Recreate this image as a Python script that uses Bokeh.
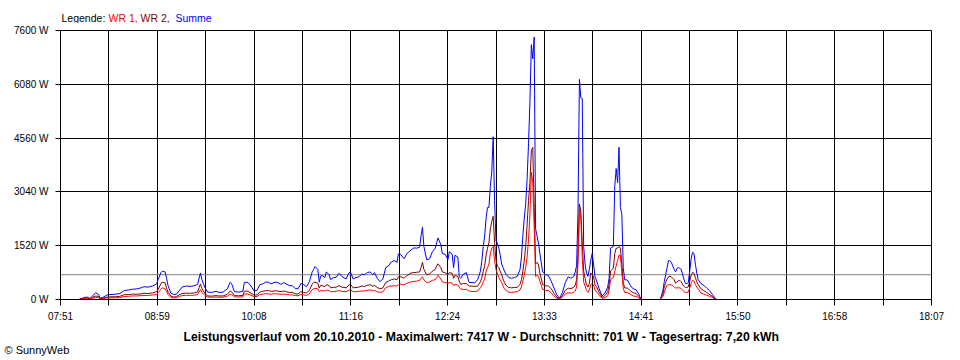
from bokeh.plotting import figure
from bokeh.models import FixedTicker, Span, CustomJSTickFormatter, Range1d, ColumnDataSource, Title
from bokeh.layouts import column
from bokeh.core.properties import value
from bokeh.embed import file_html
from bokeh.resources import INLINE

# ---------------- data (minutes since midnight, watts) ----------------
MINUTES = [
    484, 486, 488, 490, 492, 494, 496, 498, 499, 501, 504, 506, 510, 513, 516, 519, 522, 525, 528, 530,
    533, 536, 539, 540, 542, 543, 545, 546, 547, 549, 551, 553, 555, 557, 560, 563, 566, 568, 569, 570,
    571, 573, 575, 578, 581, 583, 586, 589, 591, 592, 594, 597, 600, 601, 603, 605, 608, 610, 612, 614,
    616, 618, 620, 622, 624, 627, 629, 631, 633, 635, 637, 639, 641, 643, 645, 647, 649, 650, 651, 653,
    654, 655, 656, 658, 659, 661, 662, 664, 666, 668, 670, 673, 675, 676, 678, 680, 682, 684, 686, 688,
    690, 692, 693, 695, 697, 699, 701, 703, 705, 707, 709, 710, 711, 713, 714, 716, 719, 721, 723, 725,
    726, 727, 728, 730, 732, 734, 736, 737, 738, 740, 741, 743, 745, 746, 748, 749, 750, 752, 753, 754,
    756, 758, 760, 762, 764, 766, 768, 769, 770, 771, 772, 773, 774, 775, 776, 777, 778, 779, 780, 781,
    782, 783, 784, 785, 786, 788, 790, 792, 794, 796, 797, 798, 799, 800, 801, 802, 803, 804, 805, 806,
    807, 808, 809, 810, 812, 814, 816, 818, 820, 822, 824, 826, 828, 830, 832, 834, 835, 836, 837, 838,
    839, 840, 841, 842, 843, 844, 845, 846, 847, 848, 849, 850, 852, 854, 856, 858, 859, 860, 861, 862,
    863, 864, 865, 866, 867, 868, 869, 870, 872, 874, 876, 878, 880, 881, 882, 895, 896, 897, 898, 899,
    900, 901, 902, 903, 904, 905, 906, 907, 908, 909, 910, 911, 912, 913, 914, 915, 916, 917, 918, 919,
    920, 921, 922, 924, 926, 928, 930, 932, 934, 935,
]

SUMME = [
    0, 30, 60, 65, 30, 120, 190, 140, 40, 60, 130, 140, 150, 170, 250, 270, 290, 300, 330, 360,
    350, 380, 440, 560, 760, 800, 780, 600, 400, 180, 140, 150, 250, 350, 380, 370, 390, 430, 600, 750,
    560, 350, 210, 200, 230, 200, 210, 300, 490, 450, 220, 210, 230, 480, 490, 420, 240, 260, 420, 440,
    490, 490, 440, 480, 490, 430, 480, 430, 390, 390, 310, 300, 450, 420, 360, 500, 780, 850, 930, 850,
    490, 660, 680, 620, 780, 700, 560, 620, 630, 740, 650, 580, 750, 780, 580, 620, 640, 720, 700, 760,
    780, 700, 760, 600, 500, 580, 900, 950, 1060, 1100, 1050, 1290, 1300, 1200, 1150, 1300, 1400, 1460, 1450, 1480,
    1800, 2040, 1500, 1120, 1150, 1350, 1450, 1600, 1740, 1550, 1300, 1280, 1130, 1350, 1280, 900, 1250, 1200, 650, 600,
    720, 760, 480, 480, 470, 560, 800, 1100, 1500, 1800, 2300, 2600, 2600, 3200, 3600, 4600, 2800, 1650, 1600, 1450,
    1250, 1000, 900, 800, 720, 620, 600, 620, 650, 850, 1200, 1800, 2300, 2700, 3400, 4400, 5600, 7200, 6800, 7417,
    2000, 1800, 1600, 1300, 780, 700, 680, 520, 330, 130, 40, 200, 480, 640, 600, 650, 780, 950, 2500, 6220,
    5700, 5680, 1500, 1000, 750, 650, 850, 1100, 1300, 1000, 650, 550, 300, 100, 180, 350, 600, 1450, 1480, 1500,
    3200, 3700, 3300, 4300, 2600, 2400, 900, 560, 550, 400, 300, 280, 150, 60, 0, 0, 100, 250, 500, 700,
    900, 1100, 1100, 1050, 950, 850, 780, 880, 900, 880, 850, 700, 560, 450, 450, 480, 800, 1150, 1330, 1300,
    1000, 750, 560, 450, 400, 320, 250, 150, 30, 0,
]

WR2 = [
    0, 20, 40, 45, 20, 70, 100, 80, 25, 35, 70, 75, 80, 90, 135, 140, 150, 150, 160, 175,
    170, 185, 220, 290, 440, 490, 470, 330, 210, 100, 70, 80, 130, 170, 180, 175, 190, 210, 330, 440,
    310, 180, 100, 95, 110, 100, 100, 150, 240, 220, 110, 105, 115, 230, 240, 200, 120, 130, 210, 230,
    250, 250, 230, 240, 245, 220, 240, 215, 200, 200, 160, 155, 220, 200, 180, 260, 430, 480, 490, 460,
    320, 400, 390, 360, 420, 390, 330, 340, 350, 390, 350, 330, 410, 430, 330, 340, 350, 380, 370, 400,
    420, 370, 400, 340, 300, 330, 480, 520, 560, 580, 560, 640, 650, 620, 600, 680, 750, 760, 770, 780,
    900, 1050, 850, 700, 720, 800, 850, 950, 1010, 900, 780, 760, 700, 760, 740, 600, 680, 650, 520, 430,
    450, 450, 380, 380, 370, 380, 500, 620, 800, 950, 1250, 1450, 1600, 2000, 2200, 2350, 1600, 1100, 950, 900,
    800, 700, 580, 480, 400, 340, 330, 340, 340, 430, 560, 800, 1100, 1500, 2100, 2800, 3300, 4200, 4300, 2600,
    1000, 1050, 1000, 750, 420, 390, 380, 310, 170, 70, 20, 110, 260, 320, 310, 340, 400, 560, 1300, 2700,
    2500, 1600, 800, 600, 420, 350, 450, 750, 700, 650, 420, 370, 200, 60, 110, 220, 420, 800, 850, 880,
    1300, 1450, 1450, 1500, 1450, 1000, 480, 330, 320, 250, 190, 170, 90, 40, 0, 0, 60, 150, 350, 480,
    580, 640, 660, 640, 600, 560, 460, 500, 530, 540, 500, 420, 370, 340, 340, 360, 520, 680, 770, 740,
    620, 500, 420, 300, 250, 200, 140, 90, 15, 0,
]

WR1 = [
    0, 10, 20, 25, 10, 40, 60, 50, 15, 20, 45, 45, 50, 55, 85, 90, 100, 100, 110, 115,
    115, 125, 140, 190, 290, 330, 300, 220, 140, 60, 45, 50, 85, 110, 120, 115, 125, 140, 210, 280,
    200, 120, 70, 65, 70, 65, 65, 95, 150, 140, 75, 70, 75, 150, 160, 130, 80, 85, 140, 150,
    165, 160, 150, 160, 160, 145, 155, 140, 130, 130, 110, 105, 140, 130, 115, 160, 280, 300, 310, 300,
    220, 250, 250, 240, 270, 250, 220, 225, 230, 250, 230, 220, 260, 280, 220, 220, 230, 240, 240, 260,
    270, 240, 260, 220, 200, 220, 330, 370, 380, 390, 380, 420, 440, 420, 410, 460, 500, 510, 520, 540,
    600, 640, 560, 470, 500, 540, 560, 620, 680, 580, 500, 480, 450, 480, 460, 400, 420, 410, 350, 300,
    280, 290, 240, 230, 225, 240, 330, 400, 500, 580, 800, 900, 1000, 1300, 1450, 1500, 1100, 850, 720, 620,
    550, 480, 380, 300, 260, 210, 200, 210, 220, 270, 360, 520, 700, 900, 1200, 1700, 2400, 3600, 3300, 2100,
    650, 680, 650, 520, 290, 260, 250, 190, 90, 35, 10, 60, 160, 190, 180, 200, 240, 350, 1000, 2550,
    2300, 1200, 500, 380, 260, 200, 270, 420, 450, 420, 260, 230, 120, 30, 50, 110, 260, 550, 600, 620,
    800, 950, 1100, 1250, 1250, 750, 320, 200, 200, 150, 100, 90, 45, 20, 0, 0, 30, 80, 200, 320,
    400, 420, 420, 410, 390, 360, 320, 330, 330, 330, 310, 270, 220, 200, 200, 210, 330, 450, 540, 520,
    420, 350, 300, 180, 150, 120, 90, 60, 8, 0,
]

X_TICK_LABELS = ["07:51", "08:59", "10:08", "11:16", "12:24", "13:33", "14:41", "15:50", "16:58", "18:07"]
Y_TICKS = [0, 1520, 3040, 4560, 6080, 7600]
AVERAGE_W = 701
LEGEND_TEXTS = ["Legende:", "WR 1,", "WR 2,", "Summe"]
LEGEND_COLORS = ["#000000", "#FF0000", "#800000", "#0000FF"]
TITLE = "Leistungsverlauf vom 20.10.2010 - Maximalwert: 7417 W - Durchschnitt: 701 W - Tagesertrag: 7,20 kWh"
CREDIT = "\u00a9 SunnyWeb"

assert len(MINUTES) == len(SUMME) == len(WR1) == len(WR2)

FONT = "Liberation Sans"
W = 960
FRAME_L, FRAME_R, FRAME_T, FRAME_B = 60, 931, 30, 299
TOP_H = 23
MAIN_H = 360 - TOP_H


def to_min(s):
    h, m = s.split(":")
    return int(h) * 60 + int(m)


x_start = to_min(X_TICK_LABELS[0])
x_end = to_min(X_TICK_LABELS[-1])
n = len(X_TICK_LABELS) - 1
step = (x_end - x_start) / n
major = [x_start + i * step for i in range(n + 1)]
minor = [x_start + (i + 0.5) * step for i in range(n)]

# ---------------- top strip: coloured legend text (x in page pixels) ----------------
top = figure(width=W, height=TOP_H, output_backend="svg", toolbar_location=None,
             x_range=Range1d(FRAME_L, FRAME_R), y_range=Range1d(0, TOP_H),
             min_border_left=FRAME_L, min_border_right=W - FRAME_R, min_border_top=0, min_border_bottom=0)
top.axis.visible = False
top.grid.visible = False
top.outline_line_color = None
top.background_fill_color = "white"
top.border_fill_color = "white"
top.text(x="x", y="y", text="text", text_color="color",
         source=ColumnDataSource(dict(x=[61, 108, 140, 175], y=[TOP_H - 17] * 4,
                                      text=LEGEND_TEXTS, color=LEGEND_COLORS)),
         text_font=value(FONT), text_font_size=value("10.5px"), text_baseline="middle", text_align="left")

# ---------------- main chart ----------------
p = figure(width=W, height=MAIN_H, output_backend="svg", toolbar_location=None,
           x_range=Range1d(x_start, x_end), y_range=Range1d(Y_TICKS[0], Y_TICKS[-1]),
           min_border_left=FRAME_L, min_border_right=W - FRAME_R, min_border_top=FRAME_T - TOP_H,
           min_border_bottom=360 - FRAME_B)
p.background_fill_color = "white"
p.border_fill_color = "white"
p.outline_line_color = "black"
p.outline_line_width = 1

p.xaxis.ticker = FixedTicker(ticks=major, minor_ticks=minor)
p.yaxis.ticker = FixedTicker(ticks=Y_TICKS)
p.xgrid.grid_line_color = "black"
p.xgrid.minor_grid_line_color = "black"
p.ygrid.grid_line_color = "black"

for ax in (p.xaxis[0], p.yaxis[0]):
    ax.axis_line_color = "black"
    ax.major_tick_line_color = "black"
    ax.major_tick_in = 0
    ax.major_label_text_font = FONT
    ax.major_label_text_font_size = "10px"
    ax.major_label_text_color = "black"
p.xaxis.major_tick_out = 6
p.xaxis.minor_tick_out = 6
p.xaxis.minor_tick_in = 0
p.xaxis.minor_tick_line_color = "black"
p.xaxis.major_label_standoff = 5
p.yaxis.major_tick_out = 5
p.yaxis.minor_tick_line_color = None
p.yaxis.major_label_standoff = 7
p.xaxis.formatter = CustomJSTickFormatter(
    args=dict(labels=X_TICK_LABELS, start=x_start, step=step),
    code="const i = Math.round((tick - start) / step); return (i >= 0 && i < labels.length) ? labels[i] : '';")
p.yaxis.major_label_overrides = {v: f"{v} W" for v in Y_TICKS}

p.add_layout(Span(location=AVERAGE_W, dimension="width", line_color="#808080", line_width=1, level="underlay"))

p.line(MINUTES, SUMME, line_color="#0000FF", line_width=1)
p.line(MINUTES, WR2, line_color="#800000", line_width=1)
p.line(MINUTES, WR1, line_color="#FF0000", line_width=1)

# bottom texts as titles below the axis
p.add_layout(Title(text=TITLE, align="left", offset=183 - FRAME_L, text_font=FONT, text_font_size="12.25px",
                   text_font_style="bold", text_color="black", standoff=6), "below")
credit_kw = dict(text=CREDIT, align="left", offset=4 - FRAME_L, text_font=FONT, text_font_size="11px",
                 text_font_style="normal", text_color="black")
try:
    credit = Title(standoff=-10, **credit_kw)
except Exception:
    credit = Title(standoff=0, **credit_kw)
p.add_layout(credit, "below")

layout = column(top, p, spacing=0)
open("out.html", "w").write(file_html(layout, INLINE))
